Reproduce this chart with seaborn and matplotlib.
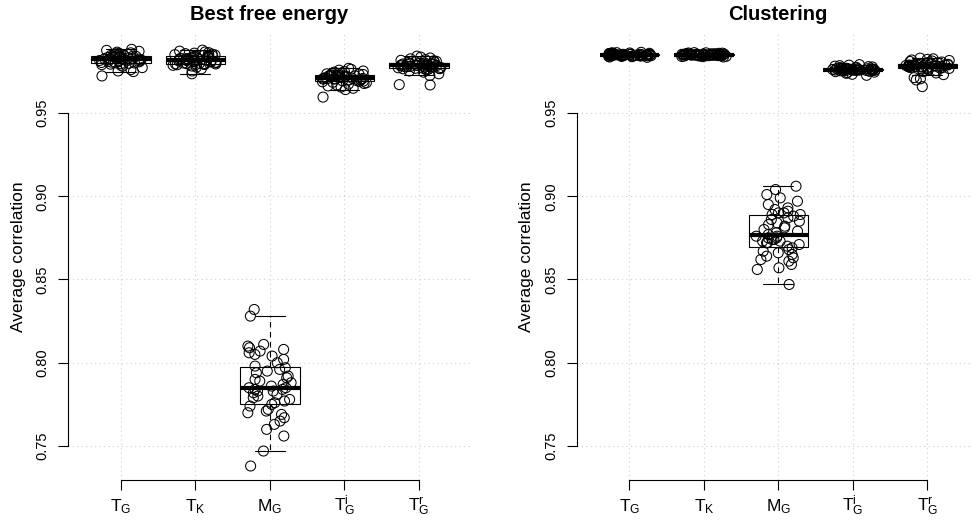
import numpy as np
import pandas as pd
import matplotlib
matplotlib.use("Agg")
import matplotlib.pyplot as plt
import seaborn as sns

# ---------------- data ----------------
methods = ["TG", "TK", "MG", "TGi", "TGr"]
method_labels = [r"$\mathrm{T_G}$", r"$\mathrm{T_K}$", r"$\mathrm{M_G}$",
                 r"$\mathrm{T_G^i}$", r"$\mathrm{T_G^r}$"]
panel_titles = ["Best free energy", "Clustering"]
y_ticks = [0.75, 0.80, 0.85, 0.90, 0.95]

bfe_TG = [0.9722, 0.9748, 0.9752, 0.9760, 0.9772, 0.9780, 0.9786, 0.9790, 0.9793, 0.9796,
          0.9798, 0.9800, 0.9801, 0.9803, 0.9805, 0.9807, 0.9809, 0.9811, 0.9813, 0.9815,
          0.9817, 0.9819, 0.9820, 0.9822, 0.9823, 0.9825, 0.9826, 0.9828, 0.9830, 0.9831,
          0.9833, 0.9835, 0.9836, 0.9838, 0.9839, 0.9840, 0.9841, 0.9842, 0.9844, 0.9846,
          0.9848, 0.9850, 0.9852, 0.9855, 0.9858, 0.9861, 0.9865, 0.9870, 0.9876, 0.9882]
bfe_TK = [0.9735, 0.9752, 0.9765, 0.9775, 0.9782, 0.9786, 0.9789, 0.9791, 0.9792, 0.9793,
          0.9794, 0.9795, 0.9795, 0.9796, 0.9798, 0.9800, 0.9802, 0.9804, 0.9806, 0.9808,
          0.9810, 0.9812, 0.9814, 0.9816, 0.9817, 0.9819, 0.9821, 0.9822, 0.9824, 0.9826,
          0.9828, 0.9830, 0.9832, 0.9834, 0.9836, 0.9838, 0.9839, 0.9840, 0.9842, 0.9844,
          0.9846, 0.9848, 0.9850, 0.9853, 0.9856, 0.9859, 0.9862, 0.9866, 0.9871, 0.9877]
bfe_MG = [0.738, 0.747, 0.756, 0.760, 0.763, 0.765, 0.767, 0.769, 0.770, 0.771,
          0.772, 0.774, 0.775, 0.776, 0.777, 0.778, 0.779, 0.780, 0.781, 0.782,
          0.783, 0.783, 0.784, 0.784, 0.785, 0.785, 0.786, 0.787, 0.788, 0.789,
          0.790, 0.791, 0.792, 0.794, 0.795, 0.796, 0.797, 0.798, 0.800, 0.802,
          0.804, 0.805, 0.806, 0.807, 0.808, 0.809, 0.810, 0.811, 0.828, 0.832]
bfe_TGi = [0.9595, 0.9640, 0.9648, 0.9655, 0.9662, 0.9668, 0.9673, 0.9677, 0.9681, 0.9684,
           0.9687, 0.9689, 0.9691, 0.9693, 0.9695, 0.9697, 0.9699, 0.9701, 0.9703, 0.9704,
           0.9705, 0.9706, 0.9707, 0.9708, 0.9709, 0.9711, 0.9713, 0.9715, 0.9717, 0.9719,
           0.9721, 0.9722, 0.9723, 0.9724, 0.9725, 0.9726, 0.9727, 0.9729, 0.9731, 0.9733,
           0.9735, 0.9737, 0.9739, 0.9742, 0.9745, 0.9748, 0.9752, 0.9757, 0.9762, 0.9768]
bfe_TGr = [0.9668, 0.9670, 0.9725, 0.9735, 0.9745, 0.9752, 0.9758, 0.9762, 0.9764, 0.9765,
           0.9766, 0.9767, 0.9768, 0.9769, 0.9771, 0.9773, 0.9775, 0.9776, 0.9777, 0.9778,
           0.9779, 0.9780, 0.9782, 0.9783, 0.9784, 0.9786, 0.9787, 0.9788, 0.9789, 0.9790,
           0.9791, 0.9792, 0.9793, 0.9794, 0.9795, 0.9796, 0.9797, 0.9799, 0.9801, 0.9803,
           0.9805, 0.9807, 0.9810, 0.9813, 0.9816, 0.9820, 0.9825, 0.9830, 0.9835, 0.9841]

clu_TG = [0.9834, 0.9836, 0.9838, 0.9839, 0.9840, 0.9841, 0.9842, 0.9843, 0.9843, 0.9844,
          0.9844, 0.9845, 0.9845, 0.9845, 0.9846, 0.9846, 0.9846, 0.9847, 0.9847, 0.9847,
          0.9847, 0.9848, 0.9848, 0.9848, 0.9848, 0.9849, 0.9849, 0.9849, 0.9849, 0.9850,
          0.9850, 0.9850, 0.9851, 0.9851, 0.9851, 0.9852, 0.9852, 0.9853, 0.9853, 0.9854,
          0.9854, 0.9855, 0.9856, 0.9857, 0.9858, 0.9859, 0.9860, 0.9861, 0.9862, 0.9864]
clu_TK = [0.9836, 0.9838, 0.9839, 0.9840, 0.9841, 0.9842, 0.9843, 0.9843, 0.9844, 0.9844,
          0.9845, 0.9845, 0.9846, 0.9846, 0.9846, 0.9847, 0.9847, 0.9847, 0.9847, 0.9848,
          0.9848, 0.9848, 0.9848, 0.9848, 0.9849, 0.9849, 0.9849, 0.9849, 0.9850, 0.9850,
          0.9850, 0.9850, 0.9851, 0.9851, 0.9851, 0.9852, 0.9852, 0.9852, 0.9853, 0.9853,
          0.9854, 0.9854, 0.9855, 0.9856, 0.9857, 0.9858, 0.9859, 0.9860, 0.9861, 0.9862]
clu_MG = [0.847, 0.856, 0.857, 0.859, 0.861, 0.862, 0.863, 0.864, 0.865, 0.866,
          0.867, 0.868, 0.869, 0.870, 0.871, 0.872, 0.872, 0.873, 0.873, 0.874,
          0.874, 0.875, 0.875, 0.876, 0.876, 0.877, 0.878, 0.879, 0.880, 0.881,
          0.882, 0.883, 0.884, 0.885, 0.886, 0.887, 0.888, 0.889, 0.889, 0.890,
          0.890, 0.891, 0.892, 0.893, 0.895, 0.897, 0.899, 0.901, 0.904, 0.906]
clu_TGi = [0.9726, 0.9732, 0.9738, 0.9742, 0.9745, 0.9748, 0.9750, 0.9752, 0.9753, 0.9754,
           0.9755, 0.9755, 0.9756, 0.9756, 0.9757, 0.9757, 0.9757, 0.9758, 0.9758, 0.9758,
           0.9759, 0.9759, 0.9759, 0.9760, 0.9760, 0.9760, 0.9761, 0.9761, 0.9761, 0.9762,
           0.9762, 0.9763, 0.9763, 0.9764, 0.9764, 0.9765, 0.9765, 0.9766, 0.9767, 0.9768,
           0.9769, 0.9770, 0.9772, 0.9774, 0.9776, 0.9778, 0.9781, 0.9784, 0.9787, 0.9790]
clu_TGr = [0.9658, 0.9698, 0.9705, 0.9712, 0.9730, 0.9740, 0.9748, 0.9754, 0.9759, 0.9762,
           0.9764, 0.9766, 0.9767, 0.9769, 0.9771, 0.9773, 0.9774, 0.9775, 0.9776, 0.9777,
           0.9778, 0.9779, 0.9780, 0.9781, 0.9782, 0.9783, 0.9784, 0.9785, 0.9786, 0.9787,
           0.9788, 0.9789, 0.9790, 0.9791, 0.9792, 0.9793, 0.9794, 0.9795, 0.9797, 0.9799,
           0.9801, 0.9803, 0.9806, 0.9809, 0.9812, 0.9815, 0.9818, 0.9821, 0.9825, 0.9829]

panels = [
    [bfe_TG, bfe_TK, bfe_MG, bfe_TGi, bfe_TGr],
    [clu_TG, clu_TK, clu_MG, clu_TGi, clu_TGr],
]

# ---------------- style ----------------
sns.set_style("white")
plt.rcParams["font.family"] = ["Liberation Sans", "DejaVu Sans"]
plt.rcParams["mathtext.fontset"] = "custom"
plt.rcParams["mathtext.rm"] = "Liberation Sans"
plt.rcParams["mathtext.it"] = "Liberation Sans:italic"
plt.rcParams["mathtext.bf"] = "Liberation Sans:bold"
plt.rcParams["text.color"] = "black"
plt.rcParams["axes.labelcolor"] = "black"
plt.rcParams["axes.titlecolor"] = "black"

W, H = 973, 521
fig = plt.figure(figsize=(W / 100, H / 100), dpi=100)
fig.patch.set_facecolor("white")

positions = [(68 / W, 41 / H, 403 / W, 447 / H),
             (576.5 / W, 41 / H, 403 / W, 447 / H)]

np.random.seed(7)
for p, (vals, title) in enumerate(zip(panels, panel_titles)):
    ax = fig.add_axes(positions[p])
    df = pd.DataFrame({
        "method": np.repeat(methods, [len(v) for v in vals]),
        "value": np.concatenate([np.asarray(v) for v in vals]),
    })
    sns.boxplot(data=df, x="method", y="value", order=methods, ax=ax,
                width=0.8, color="white", linecolor="black", linewidth=0.8,
                showfliers=False, whis=1.5,
                whiskerprops={"linestyle": (0, (5, 4))},
                medianprops={"linewidth": 3.0, "solid_capstyle": "butt"})
    n_before = len(ax.collections)
    sns.stripplot(data=df, x="method", y="value", order=methods, ax=ax,
                  jitter=0.3, size=7.2, color="black", linewidth=0.75,
                  edgecolor="black")
    for coll in ax.collections[n_before:]:
        coll.set_facecolor("none")
        coll.set_edgecolor("black")
        coll.set_linewidth(0.75)
        coll.set_zorder(4)

    ax.set_xlim(-0.71, 4.70)
    ax.set_ylim(0.7296, 0.998)
    ax.set_yticks(y_ticks)
    ax.set_yticklabels([f"{t:.2f}" for t in y_ticks], rotation=90,
                       va="center", fontsize=10.5)
    ax.set_xticks(range(len(methods)))
    ax.set_xticklabels(method_labels, fontsize=12.5)
    for lab in ax.get_xticklabels():
        lab.set_verticalalignment("baseline")

    ax.set_axisbelow(True)
    ax.grid(True, which="major", axis="both", color="#cfcfcf",
            linestyle=(0, (1, 3)), linewidth=0.8)
    for side in ["top", "right"]:
        ax.spines[side].set_visible(False)
    ax.spines["left"].set_bounds(0.75, 0.95)
    ax.spines["bottom"].set_bounds(0, 4)
    for side in ["left", "bottom"]:
        ax.spines[side].set_color("black")
        ax.spines[side].set_linewidth(0.8)
    ax.tick_params(axis="both", direction="out", length=7.2, width=0.8,
                   color="black", labelcolor="black")
    ax.tick_params(axis="x", pad=15)
    ax.tick_params(axis="y", pad=6)
    ax.tick_params(axis="y", left=True)
    ax.tick_params(axis="x", bottom=True)

    ax.set_xlabel("")
    ax.set_ylabel("Average correlation", fontsize=12.5, color="black")
    ax.yaxis.label.set_verticalalignment("center")
    ax.yaxis.set_label_coords(-0.124, 0.5)
    ax.set_title(title, fontsize=14.5, fontweight="bold", pad=9, color="black")

fig.savefig("out.png", dpi=100, facecolor="white")
